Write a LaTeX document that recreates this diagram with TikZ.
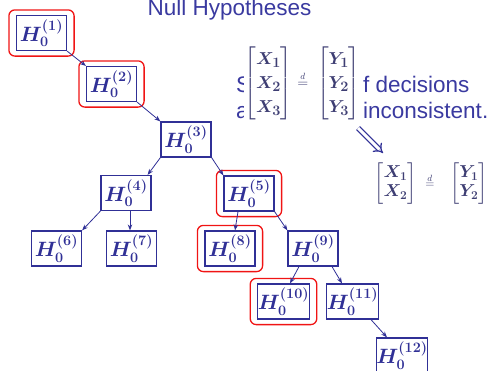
\documentclass[tikz,border=0pt]{standalone}
\usepackage{amsmath,bm}
\usepackage{fontspec}
\newfontfamily\arial{Liberation Sans}
\usetikzlibrary{arrows.meta,fit}
\definecolor{hblue}{RGB}{48,48,150}
\definecolor{tblue}{RGB}{58,58,160}
\definecolor{mblue}{RGB}{62,62,115}
\definecolor{hred}{RGB}{240,20,20}
\tikzset{
  hyp/.style={draw=hblue, line width=1.2pt, text=hblue, minimum width=50pt, minimum height=35pt, inner sep=0pt, font=\fontsize{20}{22}\selectfont},
  sel/.style={draw=hred, line width=1.3pt, rounded corners=6pt, inner xsep=7pt, inner ysep=5pt},
  edge/.style={draw=hblue, line width=0.8pt, -{Stealth[length=6pt,width=4.5pt]}},
  txt/.style={text=tblue, font=\arial\fontsize{22.5}{26}\selectfont, inner sep=0pt},
}
\begin{document}
\begin{tikzpicture}[x=1pt,y=-1pt]
\useasboundingbox (0,0) rectangle (490,370);
\node[txt, anchor=base] (title) at (229.5,15) {Null Hypotheses};
% nodes
\node[hyp] (h1) at (41.5,33) {$\bm{H_0^{(1)}}$};
\node[hyp] (h2) at (111.5,84) {$\bm{H_0^{(2)}}$};
\node[hyp] (h3) at (186,139.5) {$\bm{H_0^{(3)}}$};
\node[hyp] (h4) at (126,193) {$\bm{H_0^{(4)}}$};
\node[hyp] (h5) at (249,193.5) {$\bm{H_0^{(5)}}$};
\node[hyp] (h6) at (56.5,248.5) {$\bm{H_0^{(6)}}$};
\node[hyp] (h7) at (131.5,248.5) {$\bm{H_0^{(7)}}$};
\node[hyp] (h8) at (230,248.5) {$\bm{H_0^{(8)}}$};
\node[hyp] (h9) at (313,248.5) {$\bm{H_0^{(9)}}$};
\node[hyp] (h10) at (283.5,301.5) {$\bm{H_0^{(10)}}$};
\node[hyp] (h11) at (352.5,301.5) {$\bm{H_0^{(11)}}$};
\node[hyp] (h12) at (402,355.5) {$\bm{H_0^{(12)}}$};
% red selections
\node[sel, fit=(h1)] (r1) {};
\node[sel, fit=(h2)] (r2) {};
\node[sel, fit=(h5)] (r5) {};
\node[sel, fit=(h8)] (r8) {};
\node[sel, fit=(h10)] (r10) {};
% edges
\draw[edge] (h1.south east) -- (h2.north west);
\draw[edge] (h2.south east) -- (h3.north west);
\draw[edge] (h3.south west) -- ([xshift=-4pt]h4.north east);
\draw[edge] (h3.south east) -- (h5.north west);
\draw[edge] (h4.south west) -- (h6.north east);
\draw[edge] ([xshift=4pt]h4.south) -- ([xshift=-1.5pt]h7.north);
\draw[edge] ([xshift=-11pt]h5.south) -- ([xshift=5pt]h8.north);
\draw[edge] (h5.south east) -- (h9.north west);
\draw[edge] ([xshift=-14pt]h9.south) -- ([xshift=6.5pt]h10.north);
\draw[edge] ([xshift=19pt]h9.south) -- ([xshift=-10.5pt]h11.north);
\draw[edge] ([xshift=18.5pt]h11.south) -- ([xshift=-15pt]h12.north);
% background text
\node[txt, anchor=base west] (s) at (236,92) {S};
\node[txt, anchor=base west] (a) at (236,118) {a};
\node[txt, anchor=base west] (dec) at (363,92) {f decisions};
\node[txt, anchor=base west] (inc) at (363,118) {inconsistent.};
% big matrix overlay
\node[fill=white, inner sep=0pt, minimum height=82pt, text=mblue,
      font=\fontsize{19}{24}\selectfont] (m1) at (302.5,83.5)
  {$\begin{bmatrix}\bm{X_1}\\ \bm{X_2}\\ \bm{X_3}\end{bmatrix}\hspace{2pt}{\scriptstyle\overset{d}{=}}\hspace{6pt}\begin{bmatrix}\bm{Y_1}\\ \bm{Y_2}\\ \bm{Y_3}\end{bmatrix}$};
% implication arrow
\coordinate (i1) at (358,128);
\coordinate (i2) at (383,153);
\draw[draw=hblue, line width=1.3pt, double distance=3pt, -{Implies}] (i1) -- (i2);
% small matrix
\node[inner sep=0pt, text=mblue, font=\fontsize{18}{19}\selectfont] (m2) at (431,183.5)
  {$\begin{bmatrix}\bm{X_1}\\ \bm{X_2}\end{bmatrix}\hspace{6pt}{\scriptstyle\overset{d}{=}}\hspace{13pt}\begin{bmatrix}\bm{Y_1}\\ \bm{Y_2}\end{bmatrix}$};
\end{tikzpicture}
\end{document}
